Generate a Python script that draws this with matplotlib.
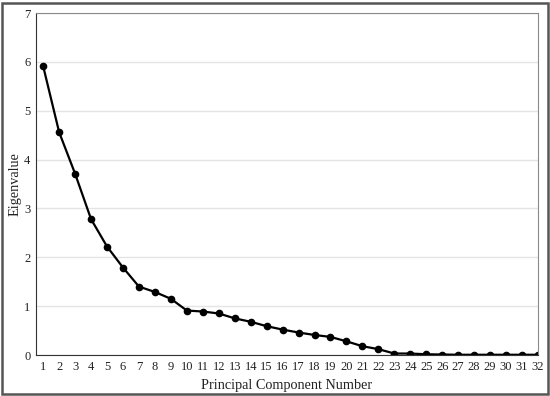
import matplotlib.pyplot as plt
from matplotlib.patches import Rectangle

plt.rcParams['font.family'] = ['Liberation Serif', 'DejaVu Serif']

componentes = list(range(1, 33))
autovalores = [5.91, 4.56, 3.71, 2.78, 2.22, 1.79, 1.40, 1.29, 1.15, 0.91,
               0.89, 0.85, 0.75, 0.68, 0.59, 0.52, 0.46, 0.41, 0.37, 0.28,
               0.18, 0.12, 0.03, 0.03, 0.015, 0.01, 0.005, 0.005, 0.005, 0.005,
               0.005, 0.005]


def main():
    fig = plt.figure(figsize=(5.5, 3.96), dpi=100)
    ax = fig.add_axes([36 / 550, 1 - 355 / 396, (538 - 36) / 550, (355 - 13) / 396])

    ax.plot(componentes, autovalores, color='black', linewidth=1.6,
            marker='o', markersize=4.5)

    ax.set_xlim(0.55, 32)
    ax.set_ylim(0, 7)
    ax.set_xticks(componentes)
    ax.set_yticks(range(0, 8))
    ax.tick_params(length=0, labelsize=9, pad=4, labelcolor='#222222')
    ax.grid(axis='y', color='#e4e4e4', linewidth=1)
    ax.set_axisbelow(True)

    for lado in ['top', 'right']:
        ax.spines[lado].set_color('#8a8a8a')
    for lado in ['left', 'bottom']:
        ax.spines[lado].set_color('#333333')

    ax.set_xlabel('Principal Component Number', fontsize=10.3, labelpad=5,
                  color='#222222')
    ax.set_ylabel('Eigenvalue', fontsize=10.3, labelpad=2, color='#222222')

    # marco exterior
    fig.patches.append(Rectangle((2 / 550, 2 / 396), 546 / 550, 391 / 396,
                                 transform=fig.transFigure, fill=False,
                                 edgecolor='#555555', linewidth=1.8))

    fig.savefig('out.png', dpi=100)


if __name__ == '__main__':
    main()
